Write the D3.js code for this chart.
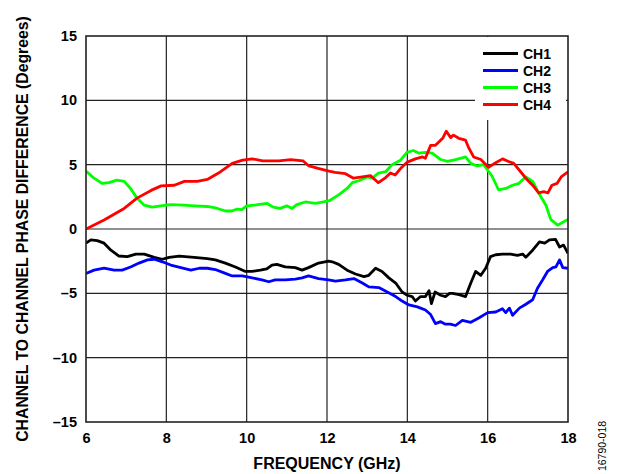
<!DOCTYPE html>
<html>
<head>
<meta charset="utf-8">
<script src="https://cdn.jsdelivr.net/npm/d3@7"></script>
<style>
  body { margin: 0; background: #fff; }
  text { font-family: "Liberation Sans", Arial, sans-serif; }
</style>
</head>
<body>
<svg id="chart"></svg>
<script>
// frequency (GHz) and phase difference (degrees) per channel
const ch1Freq = [6.0, 6.12, 6.28, 6.45, 6.62, 6.82, 7.03, 7.24, 7.45, 7.7, 7.9, 8.07, 8.32, 8.69, 9.02, 9.22, 9.47, 9.72, 9.97, 10.13, 10.34, 10.5, 10.63, 10.75, 10.96, 11.21, 11.38, 11.54, 11.79, 12.04, 12.13, 12.29, 12.5, 12.71, 12.92, 13.04, 13.21, 13.37, 13.54, 13.71, 13.87, 14.0, 14.12, 14.2, 14.33, 14.45, 14.54, 14.6, 14.69, 14.83, 14.95, 15.05, 15.12, 15.29, 15.45, 15.58, 15.7, 15.83, 15.95, 16.07, 16.2, 16.37, 16.57, 16.74, 16.87, 16.95, 17.12, 17.29, 17.42, 17.54, 17.69, 17.79, 17.89, 18.0]
const ch1 = [-1.1, -0.85, -0.9, -1.1, -1.65, -2.1, -2.15, -1.95, -1.95, -2.2, -2.35, -2.2, -2.1, -2.2, -2.3, -2.4, -2.65, -2.95, -3.3, -3.3, -3.2, -3.1, -2.8, -2.75, -2.95, -3.0, -3.2, -3.0, -2.65, -2.5, -2.55, -2.75, -3.2, -3.5, -3.7, -3.6, -3.05, -3.3, -3.8, -4.2, -4.9, -5.15, -5.25, -5.6, -5.25, -5.25, -4.8, -5.8, -4.9, -5.15, -5.25, -5.0, -5.0, -5.1, -5.25, -4.2, -3.3, -3.6, -3.05, -2.15, -2.0, -1.95, -1.95, -2.05, -1.95, -2.2, -1.65, -1.0, -1.1, -0.85, -0.8, -1.4, -1.25, -1.9]

const ch2Freq = [6.0, 6.2, 6.45, 6.7, 6.9, 7.11, 7.32, 7.53, 7.7, 7.9, 8.11, 8.36, 8.61, 8.82, 9.02, 9.22, 9.47, 9.64, 9.89, 10.14, 10.38, 10.55, 10.71, 10.96, 11.21, 11.38, 11.54, 11.79, 12.04, 12.21, 12.46, 12.67, 12.88, 13.04, 13.29, 13.5, 13.71, 13.87, 14.04, 14.25, 14.45, 14.58, 14.7, 14.83, 14.95, 15.07, 15.2, 15.37, 15.58, 15.79, 16.0, 16.2, 16.37, 16.45, 16.54, 16.62, 16.79, 16.95, 17.12, 17.24, 17.37, 17.49, 17.62, 17.7, 17.79, 17.87, 18.0]
const ch2 = [-3.45, -3.2, -3.05, -3.2, -3.2, -2.95, -2.65, -2.4, -2.35, -2.55, -2.8, -3.0, -3.2, -3.05, -3.05, -3.15, -3.45, -3.65, -3.65, -3.8, -3.95, -4.1, -3.95, -3.95, -3.9, -3.8, -3.65, -3.85, -3.95, -4.05, -3.95, -3.85, -4.2, -4.5, -4.55, -4.9, -5.25, -5.6, -5.9, -6.05, -6.3, -6.65, -7.35, -7.2, -7.4, -7.4, -7.5, -7.1, -7.25, -6.9, -6.5, -6.45, -6.2, -6.5, -6.15, -6.7, -6.15, -5.85, -5.5, -4.6, -3.95, -3.3, -3.0, -2.95, -2.4, -3.0, -3.05]

const ch3Freq = [6.0, 6.2, 6.4, 6.57, 6.77, 6.95, 7.11, 7.27, 7.45, 7.65, 7.86, 8.11, 8.44, 8.7, 9.02, 9.22, 9.47, 9.63, 9.76, 9.88, 10.0, 10.2, 10.5, 10.66, 10.83, 11.0, 11.13, 11.25, 11.46, 11.71, 11.91, 12.06, 12.29, 12.5, 12.63, 12.79, 13.0, 13.13, 13.28, 13.46, 13.62, 13.83, 13.99, 14.15, 14.28, 14.45, 14.62, 14.83, 15.0, 15.2, 15.45, 15.58, 15.74, 15.9, 16.11, 16.27, 16.45, 16.62, 16.78, 16.95, 17.12, 17.27, 17.45, 17.57, 17.74, 17.86, 18.0]
const ch3 = [4.5, 3.95, 3.55, 3.6, 3.8, 3.7, 3.15, 2.4, 1.85, 1.7, 1.8, 1.9, 1.85, 1.8, 1.75, 1.65, 1.4, 1.4, 1.55, 1.5, 1.8, 1.85, 2.0, 1.7, 1.6, 1.8, 1.6, 1.9, 2.1, 2.0, 2.1, 2.2, 2.65, 3.15, 3.6, 3.75, 4.05, 3.95, 4.35, 4.45, 5.0, 5.35, 5.95, 6.1, 5.9, 5.95, 5.9, 5.4, 5.25, 5.4, 5.6, 5.1, 4.9, 5.0, 4.1, 3.05, 3.15, 3.4, 3.55, 4.05, 3.7, 2.8, 1.85, 0.75, 0.3, 0.5, 0.75]

const ch4Freq = [6.0, 6.45, 6.95, 7.27, 7.62, 7.87, 8.2, 8.45, 8.77, 9.02, 9.3, 9.64, 9.9, 10.14, 10.4, 10.8, 11.1, 11.4, 11.55, 11.8, 12.05, 12.2, 12.46, 12.66, 12.88, 13.08, 13.28, 13.46, 13.58, 13.7, 13.83, 14.0, 14.2, 14.38, 14.45, 14.58, 14.7, 14.88, 14.97, 15.08, 15.15, 15.28, 15.45, 15.53, 15.65, 15.83, 16.02, 16.2, 16.37, 16.52, 16.65, 16.82, 16.99, 17.15, 17.27, 17.4, 17.5, 17.6, 17.73, 17.83, 18.0]
const ch4 = [0.0, 0.7, 1.6, 2.4, 3.0, 3.35, 3.4, 3.7, 3.7, 3.85, 4.35, 5.1, 5.35, 5.45, 5.3, 5.3, 5.4, 5.3, 4.9, 4.7, 4.5, 4.4, 4.3, 3.95, 4.05, 4.15, 3.6, 4.0, 4.35, 4.2, 4.7, 5.2, 5.45, 5.6, 5.5, 6.5, 6.5, 7.05, 7.6, 7.1, 7.3, 7.05, 6.9, 6.3, 5.6, 5.4, 4.8, 5.15, 5.45, 5.25, 5.1, 4.45, 3.8, 3.3, 2.8, 2.9, 2.8, 3.4, 3.55, 4.05, 4.45]

const seriesNames = ['CH1', 'CH2', 'CH3', 'CH4']
const seriesColors = ['#000000', '#0000ff', '#00ff00', '#ff0000']
const xTicks = [6, 8, 10, 12, 14, 16, 18]
const yTicks = [-15, -10, -5, 0, 5, 10, 15]

const series = [
  {name: seriesNames[0], color: seriesColors[0], freq: ch1Freq, values: ch1},
  {name: seriesNames[1], color: seriesColors[1], freq: ch2Freq, values: ch2},
  {name: seriesNames[2], color: seriesColors[2], freq: ch3Freq, values: ch3},
  {name: seriesNames[3], color: seriesColors[3], freq: ch4Freq, values: ch4}
]

const W = 620, H = 474
const margin = {top: 36, right: 52, bottom: 52, left: 86}
const width = W - margin.left - margin.right
const height = H - margin.top - margin.bottom

const svgRoot = d3.select('#chart').attr('width', W).attr('height', H)
const svg = svgRoot.append('g').attr('transform', `translate(${margin.left}, ${margin.top})`)

const x = d3.scaleLinear().domain([6, 18]).range([0, width])
const y = d3.scaleLinear().domain([-15, 15]).range([height, 0])

// grid
svg.append('g')
  .selectAll('line.vgrid')
  .data(xTicks.slice(1, -1))
  .enter().append('line')
  .attr('x1', d => x(d)).attr('x2', d => x(d))
  .attr('y1', 0).attr('y2', height)
  .attr('stroke', '#222').attr('stroke-width', 1.2)
svg.append('g')
  .selectAll('line.hgrid')
  .data(yTicks.slice(1, -1))
  .enter().append('line')
  .attr('x1', 0).attr('x2', width)
  .attr('y1', d => y(d)).attr('y2', d => y(d))
  .attr('stroke', '#222').attr('stroke-width', 1.2)

// axes (labels only, lines drawn by frame)
const fmt = d => d < 0 ? '\u2013' + Math.abs(d) : String(d)
const xAxis = svg.append('g')
  .attr('transform', `translate(0, ${height})`)
  .call(d3.axisBottom(x).tickValues(xTicks).tickSize(0).tickPadding(11).tickFormat(fmt))
const yAxis = svg.append('g')
  .call(d3.axisLeft(y).tickValues(yTicks).tickSize(0).tickPadding(9).tickFormat(fmt))
;[xAxis, yAxis].forEach(a => {
  a.select('.domain').remove()
  a.selectAll('text')
    .style('font-family', '"Liberation Sans", Arial, sans-serif')
    .style('font-size', '14.5px')
    .style('font-weight', 'bold')
    .attr('fill', '#000')
})

// legend background (covers grid)
const legend = svg.append('g')
legend.append('rect')
  .attr('x', width - 93).attr('y', 1)
  .attr('width', 91).attr('height', 83)
  .attr('fill', '#fff')

// lines
const line = d3.line()
  .x(d => x(d[0]))
  .y(d => y(d[1]))

svg.append('defs').append('clipPath').attr('id', 'clip')
  .append('rect').attr('width', width).attr('height', height)

series.forEach(s => {
  svg.append('path')
    .datum(d3.zip(s.freq, s.values))
    .attr('clip-path', 'url(#clip)')
    .attr('fill', 'none')
    .attr('stroke', s.color)
    .attr('stroke-width', 2.8)
    .attr('stroke-linejoin', 'round')
    .attr('d', line)
})

// frame
svg.append('rect')
  .attr('width', width).attr('height', height)
  .attr('fill', 'none').attr('stroke', '#222').attr('stroke-width', 1.6)

// legend entries
series.forEach((s, i) => {
  const ly = 17.5 + i * 17
  legend.append('line')
    .attr('x1', width - 85).attr('x2', width - 50)
    .attr('y1', ly).attr('y2', ly)
    .attr('stroke', s.color).attr('stroke-width', 3)
  legend.append('text')
    .attr('x', width - 45).attr('y', ly)
    .attr('dy', '0.36em')
    .style('font-size', '14px').style('font-weight', 'bold')
    .text(s.name)
})

// axis titles
svgRoot.append('text')
  .attr('x', margin.left + width / 2).attr('y', 469)
  .attr('text-anchor', 'middle')
  .style('font-size', '16px').style('font-weight', 'bold')
  .text('FREQUENCY (GHz)')
svgRoot.append('text')
  .attr('transform', `translate(28, ${margin.top + height / 2}) rotate(-90)`)
  .attr('text-anchor', 'middle')
  .style('font-size', '15.8px').style('font-weight', 'bold')
  .text('CHANNEL TO CHANNEL PHASE DIFFERENCE (Degrees)')

// figure id
svgRoot.append('text')
  .attr('transform', 'translate(606, 446) rotate(-90)')
  .attr('text-anchor', 'middle')
  .style('font-size', '10.5px')
  .text('16790-018')
</script>
</body>
</html>
